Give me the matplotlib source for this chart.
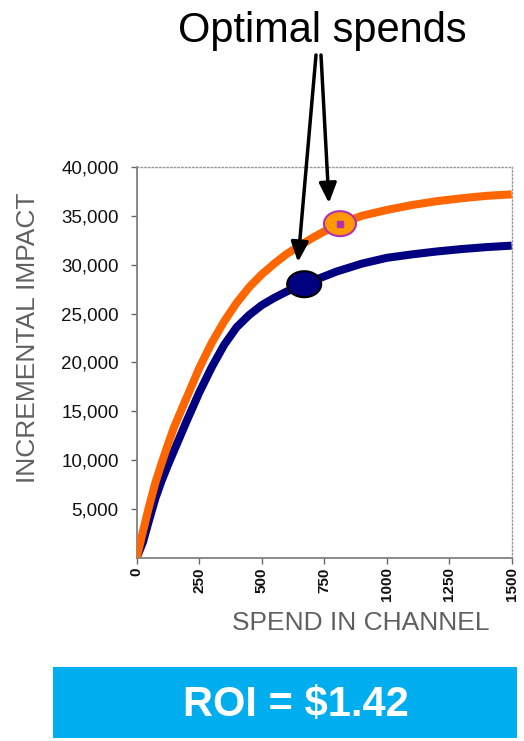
import matplotlib
matplotlib.use("Agg")
import matplotlib.pyplot as plt
from matplotlib.patches import Ellipse, Rectangle
from matplotlib.ticker import FuncFormatter

plt.rcParams['font.family'] = ['Liberation Sans', 'DejaVu Sans']

# Response curves: incremental impact vs spend
spend = [0, 25, 50, 75, 100, 125, 150, 175, 200, 250, 300, 350, 400, 450, 500,
         550, 600, 650, 700, 750, 800, 900, 1000, 1100, 1200, 1300, 1400, 1500]
impact_high = [0, 2700, 5300, 7700, 9700, 11600, 13400, 14900, 16400, 19400,
               22000, 24200, 26100, 27700, 29000, 30100, 31100, 31900, 32700,
               33400, 34050, 35000, 35600, 36100, 36500, 36800, 37050, 37200]
impact_low = [0, 1600, 3900, 6100, 7900, 9500, 11000, 12500, 14000, 16900,
              19500, 21800, 23600, 24850, 25850, 26600, 27250, 27800, 28300,
              28800, 29300, 30100, 30700, 31050, 31350, 31600, 31800, 31950]

# Optimal spend points on each curve
opt_high = (813, 34200)
opt_low = (670, 28000)

x_ticks = [0, 250, 500, 750, 1000, 1250, 1500]
y_ticks = [5000, 10000, 15000, 20000, 25000, 30000, 35000, 40000]

W, H = 524, 741
fig = plt.figure(figsize=(W / 100, H / 100), dpi=100)
ax = fig.add_axes([136.7 / W, 1 - 557.7 / H, 375 / W, 390.7 / H])

ax.plot(spend, impact_high, color='#FF6600', lw=5.8, solid_capstyle='butt',
        solid_joinstyle='round', zorder=3)
ax.plot(spend, impact_low, color='#000080', lw=5.8, solid_capstyle='butt',
        solid_joinstyle='round', zorder=2)

# Optimal spend markers (ellipses sized in pixels, converted to data units)
px_x = 1500 / 375
px_y = 40000 / 390.7
ax.add_patch(Ellipse(opt_high, 32 * px_x, 25 * px_y, facecolor='#FF9900',
                     edgecolor='#B030B0', lw=1.5, zorder=4))
ax.plot(*opt_high, marker='s', ms=4.5, color='#B030B0', zorder=5)
ax.add_patch(Ellipse(opt_low, 34 * px_x, 26 * px_y, facecolor='#000080',
                     edgecolor='black', lw=1.5, zorder=4))

ax.set_xlim(0, 1500)
ax.set_ylim(0, 40000)
ax.set_xticks(x_ticks)
ax.set_yticks(y_ticks)
ax.yaxis.set_major_formatter(FuncFormatter(lambda v, p: f'{int(v):,}'))
ax.tick_params(axis='y', direction='out', length=4, width=1, color='#666666',
               labelsize=13.5, pad=9, labelcolor='#111111')
ax.tick_params(axis='x', direction='out', length=4, width=1, color='#666666',
               labelsize=11, pad=3, labelrotation=90, labelcolor='#111111')
for lbl in ax.get_xticklabels():
    lbl.set_fontweight('bold')

for side in ('left', 'bottom'):
    ax.spines[side].set_color('#808080')
    ax.spines[side].set_linewidth(1.3)
for side in ('top', 'right'):
    ax.spines[side].set_color('#999999')
    ax.spines[side].set_linewidth(1)
    ax.spines[side].set_linestyle(':')

fig.text(28 / W, 1 - 338 / H, 'INCREMENTAL IMPACT', rotation=90, fontsize=19,
         color='#606060', ha='center', va='center')
fig.text(361 / W, 1 - 623 / H, 'SPEND IN CHANNEL', fontsize=19,
         color='#606060', ha='center', va='center')

# Title with arrows pointing to the optimal spends
fig.text(322 / W, 1 - 42 / H, 'Optimal spends', fontsize=30, color='black',
         ha='center', va='baseline')
arrow = dict(arrowstyle='-|>,head_length=0.8,head_width=0.35', mutation_scale=15,
             lw=2.5, color='black', shrinkA=0, shrinkB=0)
ax.annotate('', xy=(645, 30270), xycoords='data',
            xytext=(316, H - 55), textcoords='figure pixels', arrowprops=arrow, zorder=6)
ax.annotate('', xy=(769, 36300), xycoords='data',
            xytext=(321, H - 55), textcoords='figure pixels', arrowprops=arrow, zorder=6)

# ROI banner
fig.patches.append(Rectangle((53 / W, 1 - 738 / H), 464 / W, 71 / H,
                             transform=fig.transFigure, facecolor='#00AEEF',
                             edgecolor='none'))
fig.text(296 / W, 1 - 705 / H, 'ROI = $1.42', fontsize=30, fontweight='bold',
         color='white', ha='center', va='center')

fig.savefig('out.png', dpi=100)
